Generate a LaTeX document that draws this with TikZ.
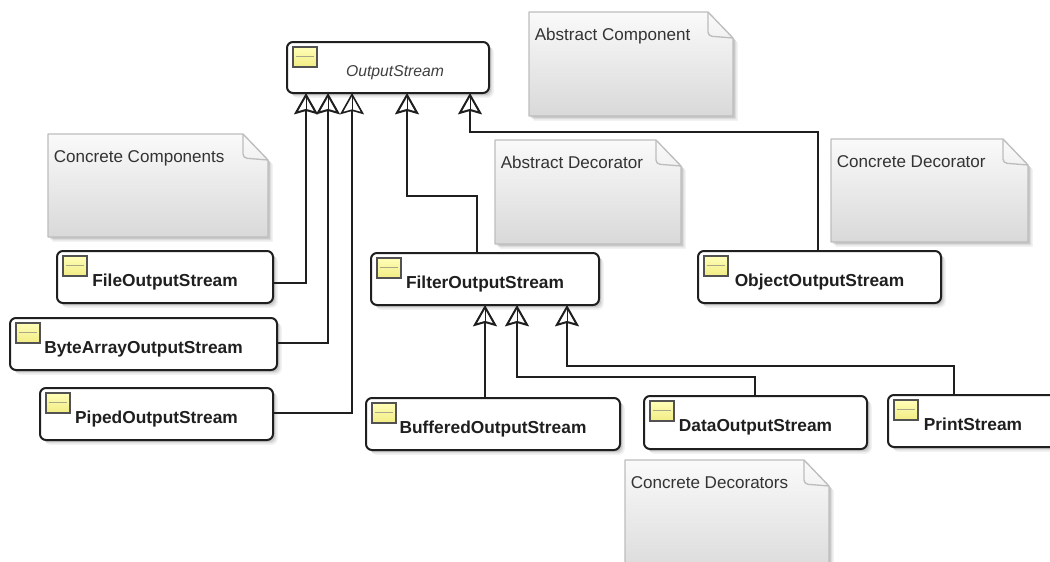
\documentclass[tikz,border=0pt]{standalone}
\usepackage{fontspec}
\setmainfont{Liberation Sans}
\usetikzlibrary{arrows.meta,shadows,calc}
\definecolor{ink}{gray}{0.12}
\definecolor{noteline}{gray}{0.74}
\definecolor{notetext}{gray}{0.2}
\definecolor{icontop}{HTML}{FFFFB8}
\definecolor{iconbot}{HTML}{F2EC84}
\definecolor{iconline}{HTML}{A8A888}
\tikzset{
  softshadow/.style={preaction={fill=black,opacity=.05,transform canvas={shift={(3.6pt,-3.6pt)}}},
    preaction={fill=black,opacity=.08,transform canvas={shift={(2.6pt,-2.6pt)}}},
    preaction={fill=black,opacity=.10,transform canvas={shift={(1.6pt,-1.6pt)}}}},
  clsbox/.style={draw=ink,line width=1.5pt,rounded corners=4.5pt,fill=white,softshadow,inner sep=0pt,text=ink,font=\fontsize{13}{15}\selectfont\bfseries},
  icon/.style={draw=black!68,line width=1.2pt,rectangle,inner sep=0pt,minimum width=18pt,minimum height=15pt,
    top color=icontop,bottom color=iconbot,anchor=north west,
    path picture={\draw[iconline,line width=.9pt] ([xshift=2pt]path picture bounding box.west)--([xshift=-2pt]path picture bounding box.east);}},
  notebody/.style={draw=noteline,line width=1pt,line join=round,top color=black!2,bottom color=black!15,softshadow},
  notefold/.style={draw=noteline,line width=1pt,rounded corners=3pt},
  notelabel/.style={anchor=base west,inner sep=0pt,text=notetext,font=\fontsize{12.8}{15}\selectfont},
  gen/.style={draw=ink,line width=1.5pt,preaction={draw=ink,-},-{Stealth[open,fill=none,length=16pt,width=18pt,inset=2.5pt,sep=0pt]},rounded corners=0pt},
}
% \cbox{name}{x1}{y1}{x2}{y2}{text}
\newcommand{\cbox}[6]{%
  \node[clsbox,minimum width={(#4-#2)*0.75pt},minimum height={(#5-#3)*0.75pt}] (#1) at ({(#2+#4)/2},{(#3+#5)/2}) {\smash{\raisebox{-6.8pt}{#6}}};
  \node[icon] (#1icon) at ([xshift=4.6pt,yshift=-3.8pt]#1.north west) {};
}
% \cnote{name}{x1}{y1}{x2}{y2}{text}
\newcommand{\cnote}[6]{%
  \path[notebody] (#2,#3) -- ({#4-25},#3) -- (#4,{#3+26}) -- (#4,#5) -- (#2,#5) -- cycle;
  \draw[notefold] ({#4-25},#3) -- ({#4-25},{#3+24}) -- (#4,{#3+26});
  \node[notelabel] (#1) at ({#2+5.5},{#3+28}) {#6};
}
\begin{document}
\begin{tikzpicture}[x=0.75pt,y=-0.75pt]
\clip (0,0) rectangle (1050,561);
\fill[white] (0,0) rectangle (1050,561);
% notes
\cnote{nAC}{529}{12}{733}{116}{Abstract Component}
\cnote{nCC}{48}{134}{268}{237}{Concrete Components}
\cnote{nAD}{495}{140}{681}{244}{Abstract Decorator}
\cnote{nCD}{831}{139}{1028}{242}{Concrete Decorator}
\cnote{nCDs}{625}{460}{829}{580}{Concrete Decorators}
% classes
\cbox{os}{287}{42}{489}{93}{\hspace*{10.5pt}\fontsize{11.8}{14}\selectfont\mdseries\itshape\color{black!75} OutputStream}
\cbox{file}{57}{251}{273}{303}{FileOutputStream}
\cbox{byte}{10}{318}{277}{370}{ByteArrayOutputStream}
\cbox{piped}{40}{388}{273}{440}{PipedOutputStream}
\cbox{filter}{371}{253}{599}{305}{FilterOutputStream}
\cbox{object}{698}{251}{941}{303}{ObjectOutputStream}
\cbox{buffered}{366}{398}{620}{450}{BufferedOutputStream}
\cbox{data}{644}{396}{867}{449}{DataOutputStream}
\cbox{print}{888}{395}{1058}{447}{PrintStream}
% connectors
\coordinate (t1) at (306,93);
\coordinate (t2) at (328,93);
\coordinate (t3) at (352,93);
\coordinate (t4) at (407,93);
\coordinate (t5) at (470,93);
\coordinate (f1) at (485,305);
\coordinate (f2) at (517,305);
\coordinate (f3) at (567,305);
\draw[gen] (273,283) -| (t1);
\draw[gen] (277,343) -| (t2);
\draw[gen,line width=1.2pt] (273,413) -| (t3);
\draw[gen] (filter.north -| 477,0) |- (407,196) -- (t4);
\draw[gen] (object.north -| 818,0) |- (470,132) -- (t5);
\draw[gen] (buffered.north -| f1) -- (f1);
\draw[gen] (data.north -| 755,0) |- (517,377) -- (f2);
\draw[gen] (print.north -| 954,0) |- (567,366) -- (f3);
\end{tikzpicture}
\end{document}
